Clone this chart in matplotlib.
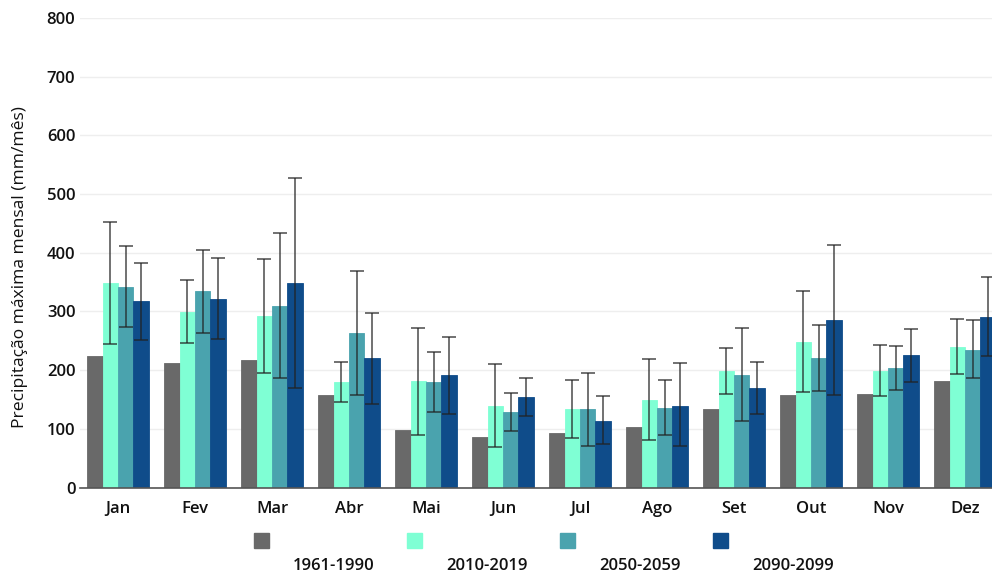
import matplotlib.pyplot as plt
import numpy as np
from matplotlib.patches import Rectangle

plt.rcParams["font.family"] = ["Open Sans", "DejaVu Sans"]

months = ["Jan", "Fev", "Mar", "Abr", "Mai", "Jun", "Jul", "Ago", "Set", "Out", "Nov", "Dez"]
periods = ["1961-1990", "2010-2019", "2050-2059", "2090-2099"]
colors = ["#696969", "#7fffd4", "#4aa3ae", "#0f4c8a"]

# mean monthly maximum precipitation (mm/mês)
p1961 = [224, 213, 218, 157, 98, 86, 93, 104, 134, 157, 159, 182]
p2010 = [348, 299, 293, 180, 181, 139, 134, 150, 198, 248, 199, 239]
p2050 = [342, 334, 310, 263, 179, 128, 133, 136, 192, 220, 203, 235]
p2090 = [317, 322, 348, 220, 191, 154, 114, 139, 169, 285, 225, 291]

# whisker ends (min / max) for the projection periods
lo2010 = [244, 247, 196, 146, 90, 69, 84, 81, 159, 162, 156, 193]
hi2010 = [452, 353, 390, 214, 271, 210, 184, 219, 237, 335, 243, 287]
lo2050 = [273, 264, 187, 157, 128, 97, 71, 90, 113, 164, 166, 187]
hi2050 = [411, 405, 434, 369, 231, 161, 195, 183, 271, 277, 241, 285]
lo2090 = [251, 253, 169, 143, 125, 122, 74, 70, 125, 157, 180, 224]
hi2090 = [382, 391, 528, 297, 256, 187, 156, 212, 214, 413, 270, 359]

series = [p1961, p2010, p2050, p2090]
lows = [None, lo2010, lo2050, lo2090]
highs = [None, hi2010, hi2050, hi2090]

fig = plt.figure(figsize=(9.92, 5.75), dpi=100)
ax = fig.add_axes([79.5 / 992, 0.152, 924 / 992, 0.817])

x = np.arange(len(months))
width = 0.2
for i, (vals, col) in enumerate(zip(series, colors)):
    pos = x + (i - 1.5) * width
    ax.bar(pos, vals, width, color=col, edgecolor=col, linewidth=0.6, zorder=2)
    if lows[i] is not None:
        v = np.array(vals)
        yerr = [v - np.array(lows[i]), np.array(highs[i]) - v]
        ax.errorbar(pos, v, yerr=yerr, fmt="none", ecolor="#222222", alpha=0.75,
                    elinewidth=1.2, capsize=5, capthick=1.2, zorder=3)

txt = dict(fontsize=12, fontweight="semibold", color="#111111")

ax.set_xlim(-0.5, 11.5)
ax.set_ylim(0, 800)
ax.set_yticks(range(0, 801, 100))
ax.set_xticks(x)
ax.set_xticklabels(months, **txt)
ax.set_yticklabels([str(v) for v in range(0, 801, 100)], **txt)
ax.tick_params(axis="both", length=0)
ax.tick_params(axis="y", pad=3)
ax.tick_params(axis="x", pad=10)
ax.grid(axis="y", color="#eeeeee", linewidth=1, zorder=0)
for s in ["top", "right", "left"]:
    ax.spines[s].set_visible(False)
ax.spines["bottom"].set_color("#555555")
ax.spines["bottom"].set_linewidth(1.2)
ax.set_ylabel("Precipitação máxima mensal (mm/mês)", fontsize=12.6, color="#111111")
ax.yaxis.set_label_coords(-0.0557, 0.47)

# legend row: swatch above, label below
for i, (lab, col) in enumerate(zip(periods, colors)):
    sx = 254 + i * 153
    fig.add_artist(Rectangle((sx / 992, 1 - 548 / 575), 15 / 992, 15 / 575,
                             transform=fig.transFigure, color=col))
    fig.text((sx + 80) / 992, 1 - 566 / 575, lab, **txt,
             ha="center", va="center")

fig.savefig("out.png", dpi=100)
